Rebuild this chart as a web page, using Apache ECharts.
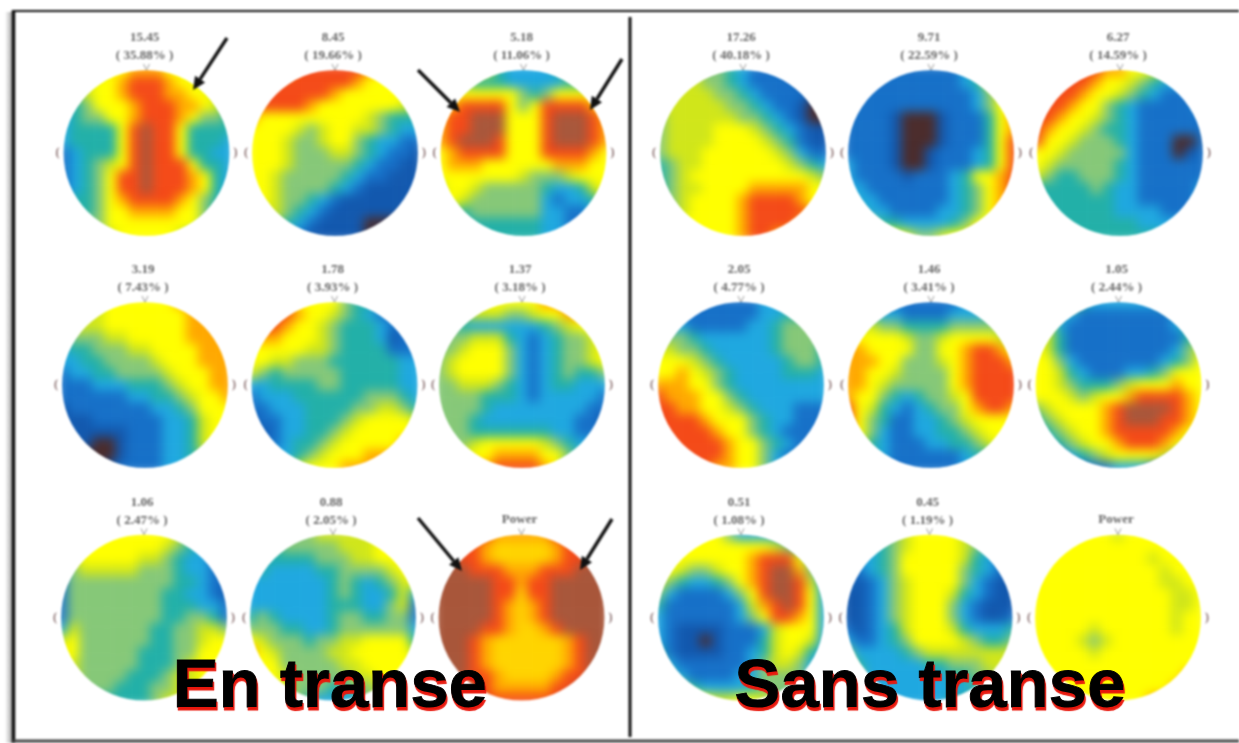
<!DOCTYPE html>
<html>
<head>
<meta charset="utf-8">
<title>En transe / Sans transe</title>
<script src="https://cdn.jsdelivr.net/npm/echarts@6/dist/echarts.min.js"></script>
<style>
html, body { margin: 0; padding: 0; background: #fff; overflow: hidden; }
.layer { position: absolute; left: 0; top: 0; width: 1239px; height: 743px; }
#heat { filter: blur(5.5px); }
#ink { filter: blur(1px); }
#names { filter: blur(0.3px); }
</style>
</head>
<body>
<div id="heat" class="layer"></div>
<div id="ink" class="layer"></div>
<div id="names" class="layer"></div>
<script>
// niveaux : 0 brun foncé, 1-3 bleus, 4 turquoise, 5-6 verts, 7 jaune, y jaune orangé, 8 orange, 9 rouge, a brun rouge
var levelColors = ['#4a2b2b', '#1258ae', '#1670c8', '#1fa8e0', '#22b0a8', '#86c878', '#d0e61a', '#ffff00', '#ffa800', '#f44a18', '#a8563a'];

var map1 = ["..56778887765..", ".5677899987765.", "456778999887764", "445777899988764", "345577899987554", "3444479a9974444", "3444479a9974443", "2344479a9974433", "2345679a9997443", "2345799a9998743", "2345799a9998743", "344578999987543", "344577888877543", ".4557777777754.", "..55677777655.."];
var map2 = ["..78999999877..", ".8999999987777.", "899999987777776", "899998777777765", "877777777765444", "777765677665433", "777655677543322", "777655566543221", "777655555432211", "776555554322111", "776555543211111", "776554321111111", "766543211111111", ".6543211110001.", "..43211111011.."];
var map3 = ["..57643333467..", ".6544433333444.", "677777754577776", "789999757999987", "899aaa7779aaa98", "899aaa7779aaa98", "89aaa97779aaa98", "789999777999987", "788877777788877", "777777765556777", "677655555433467", "776555555323346", "554555555332234", ".4444444433223.", "..44444443323.."];
var map4 = ["..66554322222..", ".6665543222211.", "666665543222210", "666666554322100", "566666655432100", "566667776543211", "566667777654211", "566677777765322", "456677777776543", "456777777777765", "456677778888877", "556777789999877", "656777789999987", ".6777778999987.", "..77777899887.."];
var map5 = ["..22222222346..", ".2222222223467.", "222222222223567", "222222222223577", "222210001222478", "222210001222478", "222210001222479", "222210012223479", "322210012223479", "322221222347789", "332222222345789", "433222222345788", "543322223345788", ".6544333345778.", "..77765567788.."];
var map6 = ["..99998877654..", ".9999877654333.", "999987765432223", "999877543222223", "998776543222222", "987765443222222", "977655543222002", "776555553222012", "765555543222222", "654455543222222", "444445433222223", "444444433222223", "444444433332223", ".4444444433333.", "..44444444433.."];
var map7 = ["..66777777888..", ".6667777777888.", "566677777778888", "455566777778888", "344555667777888", "334455556777888", "233445555677788", "222333444567788", "222222334456778", "122222223345777", "111222222334677", "211111222334677", "211001222334677", ".1000122233456.", "..00122223345.."];
var map8 = ["..78777754433..", ".8998776543222.", "899877654443223", "888777654443122", "777776654444222", "776655544444433", "654555554444433", "334444554444433", "233344444455543", "223334444556654", "122334445677776", "212334456777777", "222344567777788", ".3334567778888.", "..34677788888.."];
var map9 = ["..66777778898..", ".5566655677888.", "554333333456778", "555666432345567", "556777532345567", "567777532345567", "567777532345445", "556665432344333", "555544432333332", "555543333333322", "555433333333221", "555444444433222", "555677777654332", ".5677888877543.", "..78899998743.."];
var map10 = ["..22222223334..", ".3222222233444.", "333222223345555", "555433333345555", "665543333345554", "777654333334554", "778765433334443", "888775433333333", "988877543333333", "998877654333222", "999987775433222", "999998775432222", "999999877543222", ".9999987753222.", "..99988775332.."];
var map11 = ["..32222222333..", ".5433222233345.", "666554444555554", "777776556777765", "887777557789987", "888775556789998", "887765555789999", "887655555789999", "877543455679999", "976432345578998", "975422334567777", "875322334456777", "764322233445676", ".5432222223445.", "..32222222334.."];
var map12 = ["..76433333345..", ".7432222222234.", "763222222222345", "764222222222245", "764222222222356", "775322222223457", "776432223345777", "776544456777877", "777656778999987", "56777789aaaa987", "45677789aaa9987", "345677899999876", "234567789998765", ".2234567777653.", "..22222333222.."];
var map13 = ["..67777777643..", ".6777777765432.", "567777766543321", "356666655543321", "255555555544322", "255555555443321", "255555555444332", "255555555445542", "365555554455665", "675555554455677", "775555544455777", "765555544456777", "665555444566777", ".5555444556677.", "..44444456677.."];
var map14 = ["..55556666677..", ".4455555666777.", "444444555667777", "343333445555677", "333333345434567", "333333345433463", "333333344433562", "454333345544552", "555443345555553", "765554556677774", "876555566777776", "777555556677777", "777655555667777", ".7765554455677.", "..66543333566.."];
var map15 = ["..a998888899a..", ".a998yyyyy899a.", "aa998yyyyy899aa", "aaa999888999aaa", "aaaaa99899aaaaa", "aaaaa99y99aaaaa", "aaaaa98y89aaaaa", "aaaaa98y89aaaaa", "aaaa998yy89aaaa", "aaa98yyyyyy89aa", "aaa98yyyyyy89aa", "aaa98yyyyyy89aa", "aaa998yyyy899aa", ".aa998888899aa.", "..aa9999999aa.."];
var map16 = ["..67775333344..", ".6777777776543.", "677777778999753", "7765567789aa853", "6543345789aa963", "5322223579aa973", "42222223689a973", "322222235799873", "321111222367773", "321101222467763", "421111223467643", "532222223566533", "743222233555533", ".7543333455543.", "..77766776543.."];
var map17 = ["..34567777654..", ".3345677776543.", "333457777764322", "223457777754321", "212356777753211", "112356777643211", "112356777532111", "112356777532112", "212346777643334", "322345777765445", "533334566666666", "643333344555666", "753333333445566", ".4333333333455.", "..33333334455.."];
var map18 = ["..77777677777..", ".7777777777777.", "777777777767777", "777777777776777", "777777777776677", "777777777777667", "777777777777667", "777777777777677", "777776777777677", "777765677777777", "777776777777777", "777777777777777", "777777777777787", ".7777777777787.", "..77777777887.."];

var mapRows = [map1, map2, map3, map7, map8, map9, map13, map14, map15, map4, map5, map6, map10, map11, map12, map16, map17, map18];

var mapValues = ['15.45', '8.45', '5.18', '3.19', '1.78', '1.37', '1.06', '0.88', 'Power', '17.26', '9.71', '6.27', '2.05', '1.46', '1.05', '0.51', '0.45', 'Power'];
var mapShares = ['( 35.88% )', '( 19.66% )', '( 11.06% )', '( 7.43% )', '( 3.93% )', '( 3.18% )', '( 2.47% )', '( 2.05% )', '', '( 40.18% )', '( 22.59% )', '( 14.59% )', '( 4.77% )', '( 3.41% )', '( 2.44% )', '( 1.08% )', '( 1.19% )', ''];

// centres des cercles
var centerX = [146.5, 335, 523.5, 145, 334.5, 522, 144, 333, 521.5, 743, 931, 1120, 741, 931, 1118.5, 741, 929.5, 1118];
var centerY = [153, 153, 153, 385, 385, 385, 617.5, 617.5, 617.5, 153, 153, 153, 385, 385, 385, 617.5, 617.5, 617.5];
var radius = 83;
var gridHalf = 88;

var arrowLines = [
    [[227, 38], [193, 90]],
    [[418, 70], [460, 112]],
    [[622, 59], [590, 110]],
    [[418, 518], [462, 571]],
    [[612, 519], [580, 570]]
];

var cellIndex = [];
for (let i = 0; i < 15; i++) cellIndex.push(i);

function levelOf(c) {
    return c === 'y' ? 7.5 : parseInt(c, 16);
}

var grids = [], xAxes = [], yAxes = [], series = [];
mapRows.forEach(function (rows, m) {
    let data = [];
    rows.forEach(function (row, y) {
        let filled = row.replace(/\./g, '');
        row.split('').forEach(function (c, x) {
            // les coins restent remplis pour que le flou ne pâlisse pas le bord
            let v = c === '.' ? levelOf(filled.charAt(x < 7 ? 0 : filled.length - 1)) : levelOf(c);
            data.push([x, y, v]);
        });
    });
    grids.push({ left: centerX[m] - gridHalf, top: centerY[m] - gridHalf, width: gridHalf * 2, height: gridHalf * 2 });
    xAxes.push({ type: 'category', gridIndex: m, data: cellIndex, show: false });
    yAxes.push({ type: 'category', gridIndex: m, data: cellIndex, show: false, inverse: true });
    series.push({ type: 'heatmap', xAxisIndex: m, yAxisIndex: m, data: data, progressive: 0, animation: false });
});

var heatChart = echarts.init(document.getElementById('heat'));
heatChart.setOption({
    animation: false,
    grid: grids,
    xAxis: xAxes,
    yAxis: yAxes,
    visualMap: {
        type: 'continuous',
        show: false,
        min: 0,
        max: 10,
        dimension: 2,
        inRange: { color: levelColors }
    },
    series: series
});

// masque blanc percé d'un trou par cercle
var HoleMask = echarts.graphic.extendShape({
    shape: { x: 0, y: 0, width: 1239, height: 743 },
    buildPath: function (ctx, shape) {
        ctx.moveTo(shape.x, shape.y);
        ctx.lineTo(shape.x + shape.width, shape.y);
        ctx.lineTo(shape.x + shape.width, shape.y + shape.height);
        ctx.lineTo(shape.x, shape.y + shape.height);
        ctx.closePath();
        centerX.forEach(function (cx, m) {
            ctx.moveTo(cx + radius, centerY[m]);
            ctx.arc(cx, centerY[m], radius, 0, Math.PI * 2, true);
            ctx.closePath();
        });
    }
});
echarts.graphic.registerShape('holeMask', HoleMask);

var inkItems = [{ type: 'holeMask', shape: { x: 0, y: 0, width: 1239, height: 743 }, style: { fill: '#fff' }, z: 1 }];
mapRows.forEach(function (rows, m) {
    let top = centerY[m] - radius;
    let labelFont = 'bold 13px "Liberation Serif"';
    if (mapShares[m]) {
        inkItems.push({ type: 'text', x: centerX[m] - 2, y: top - 32, z: 3, style: { text: mapValues[m], font: labelFont, fill: '#666', align: 'center', verticalAlign: 'middle' } });
        inkItems.push({ type: 'text', x: centerX[m] - 2, y: top - 14, z: 3, style: { text: mapShares[m], font: labelFont, fill: '#666', align: 'center', verticalAlign: 'middle' } });
    } else {
        inkItems.push({ type: 'text', x: centerX[m] - 2, y: top - 15, z: 3, style: { text: mapValues[m], font: labelFont, fill: '#666', align: 'center', verticalAlign: 'middle' } });
    }
    inkItems.push({ type: 'text', x: centerX[m] - radius - 6, y: centerY[m], z: 3, style: { text: '(', font: 'bold 12px "Liberation Serif"', fill: '#8a7070', align: 'center', verticalAlign: 'middle' } });
    inkItems.push({ type: 'text', x: centerX[m] + radius + 6, y: centerY[m], z: 3, style: { text: ')', font: 'bold 12px "Liberation Serif"', fill: '#8a7070', align: 'center', verticalAlign: 'middle' } });
    inkItems.push({
        type: 'polyline',
        shape: { points: [[centerX[m] - 3, top - 6], [centerX[m], top], [centerX[m] + 3, top - 6]] },
        style: { stroke: '#999', lineWidth: 1, fill: 'none' },
        z: 3
    });
});
arrowLines.forEach(function (a) {
    let dx = a[1][0] - a[0][0], dy = a[1][1] - a[0][1];
    let len = Math.sqrt(dx * dx + dy * dy);
    let ux = dx / len, uy = dy / len;
    let bx = a[1][0] - ux * 13, by = a[1][1] - uy * 13;
    inkItems.push({
        type: 'line',
        shape: { x1: a[0][0], y1: a[0][1], x2: bx, y2: by },
        style: { stroke: '#111', lineWidth: 3.4 },
        z: 4
    });
    inkItems.push({
        type: 'polygon',
        shape: { points: [a[1], [bx - uy * 6, by + ux * 6], [bx + uy * 6, by - ux * 6]] },
        style: { fill: '#111' },
        z: 4
    });
});
// cadre
inkItems.push({ type: 'rect', shape: { x: 5, y: 12, width: 7, height: 731 }, style: { fill: { type: 'linear', x: 0, y: 0, x2: 1, y2: 0, colorStops: [{ offset: 0, color: '#fff' }, { offset: 1, color: '#aaa' }] } }, z: 2 });
inkItems.push({ type: 'line', shape: { x1: 13, y1: 11, x2: 1239, y2: 11 }, style: { stroke: '#111', lineWidth: 2 }, z: 5 });
inkItems.push({ type: 'line', shape: { x1: 13.5, y1: 10, x2: 13.5, y2: 743 }, style: { stroke: '#111', lineWidth: 3.5 }, z: 5 });
inkItems.push({ type: 'line', shape: { x1: 630, y1: 17, x2: 630, y2: 737 }, style: { stroke: '#111', lineWidth: 3 }, z: 5 });
inkItems.push({ type: 'line', shape: { x1: 13, y1: 741, x2: 1239, y2: 741 }, style: { stroke: '#444', lineWidth: 3 }, z: 5 });

var inkChart = echarts.init(document.getElementById('ink'));
inkChart.setOption({ animation: false, graphic: { elements: inkItems } });

var nameTexts = ['En transe', 'Sans transe'];
var nameX = [330, 930];
var namesChart = echarts.init(document.getElementById('names'));
namesChart.setOption({
    animation: false,
    graphic: {
        elements: nameTexts.map(function (t, i) {
            return {
                type: 'text',
                x: nameX[i],
                y: 722,
                style: {
                    text: t,
                    font: 'bold 69px "Liberation Sans"',
                    fill: '#000',
                    stroke: '#000',
                    lineWidth: 1,
                    align: 'center',
                    verticalAlign: 'bottom',
                    textShadowColor: '#e8170c',
                    textShadowOffsetX: 1,
                    textShadowOffsetY: 3,
                    textShadowBlur: 1,
                    shadowColor: '#e8170c',
                    shadowOffsetX: 1,
                    shadowOffsetY: 3,
                    shadowBlur: 1
                }
            };
        })
    }
});
</script>
</body>
</html>
